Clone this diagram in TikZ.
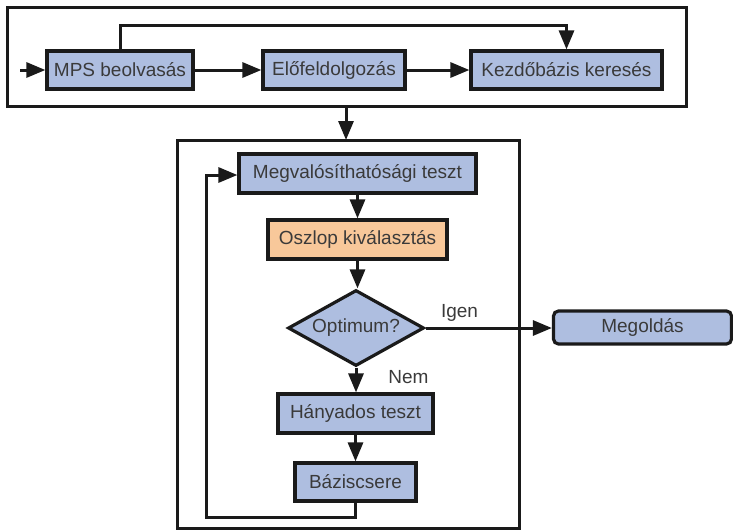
\documentclass[tikz,border=0pt]{standalone}
\usepackage{fontspec}
\setmainfont{Liberation Sans}
\usetikzlibrary{arrows.meta,shapes.geometric}
\definecolor{boxblue}{HTML}{AEBEE0}
\definecolor{boxorange}{HTML}{F8C89A}
\definecolor{txt}{HTML}{3A3A3A}
\definecolor{ln}{HTML}{1A1A1A}
\tikzset{
  stepbox/.style={draw=ln, line width=3.2pt, fill=boxblue, inner sep=0pt,
    text=txt, font=\fontsize{19}{21}\selectfont},
  frame/.style={draw=ln, line width=3pt},
  conn/.style={draw=ln, line width=3pt, -{Triangle[length=19pt,width=15pt]}},
  lbl/.style={text=txt, font=\fontsize{19}{21}\selectfont, inner sep=0pt}
}
\begin{document}
\begin{tikzpicture}[x=1pt,y=-1pt]
\useasboundingbox (0,0) rectangle (733,531);
% frames
\draw[frame] (7,7) rectangle (686,106);
\draw[frame] (177,140) rectangle (519,528);
% top row
\node[stepbox, minimum width=146pt, minimum height=38pt] (mps) at (120,70) {MPS beolvasás};
\node[stepbox, minimum width=142pt, minimum height=38pt] (elo) at (334,70) {Előfeldolgozás};
\node[stepbox, minimum width=191pt, minimum height=38pt] (kezd) at (566.5,70) {Kezdőbázis keresés};
\coordinate (in) at (20,70);
\draw[conn] (in) -- (mps.west);
\draw[conn] (mps) -- (elo);
\draw[conn] (elo) -- (kezd);
\coordinate (lt) at (120,25);
\coordinate (rt) at (566.5,25);
\draw[conn] (mps.north) -- (lt) -- (rt) -- (kezd.north);
% connection between frames
\coordinate (fa) at (346,106);
\coordinate (fb) at (346,140);
\draw[conn] (fa) -- (fb);
% inner flow
\node[stepbox, minimum width=237pt, minimum height=39pt] (meg) at (357.5,173.5) {Megvalósíthatósági teszt};
\node[stepbox, fill=boxorange, minimum width=179pt, minimum height=39pt] (osz) at (357.5,239.5) {Oszlop kiválasztás};
\node[stepbox, shape=diamond, aspect=1.79, minimum width=136pt, minimum height=76pt] (opt) at (356,328) {Optimum?};
\node[stepbox, minimum width=155pt, minimum height=39pt] (hany) at (355.5,413.5) {Hányados teszt};
\node[stepbox, minimum width=121pt, minimum height=38pt] (baz) at (355.5,482) {Báziscsere};
\node[stepbox, rounded corners=5pt, minimum width=178pt, minimum height=33pt] (sol) at (642.5,327.5) {Megoldás};
\draw[conn] (meg.south -| osz.north) -- (osz.north);
\draw[conn] (osz.south) -- (osz.south |- opt.north);
\draw[conn] (opt.south) -- (opt.south |- hany.north);
\draw[conn] (hany.south) -- (hany.south |- baz.north);
\draw[conn] (opt.east) -- (opt.east -| sol.west);
\node[lbl] (igen) at (459.5,313) {Igen};
\node[lbl] (nem) at (408.5,377) {Nem};
\coordinate (lb) at (355.5,517);
\coordinate (ll) at (206,517);
\coordinate (lu) at (206,175);
\draw[conn] (baz.south) -- (lb) -- (ll) -- (lu) -- (lu -| meg.west);
\end{tikzpicture}
\end{document}
